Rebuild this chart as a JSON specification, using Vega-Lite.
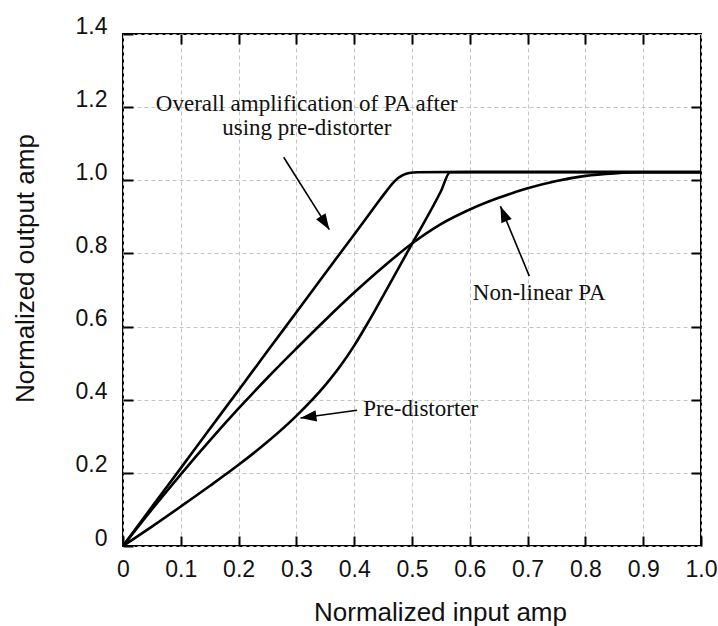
{
  "$schema": "https://vega.github.io/schema/vega-lite/v6.json",
  "width": 578,
  "height": 512,
  "autosize": {"type": "none"},
  "padding": {"left": 123, "top": 34, "right": 17, "bottom": 80},
  "background": "white",
  "config": {
    "view": {"stroke": "black", "strokeWidth": 2},
    "axis": {
      "labelFont": "Liberation Sans",
      "labelFontSize": 23,
      "labelColor": "#111",
      "titleFont": "Liberation Sans",
      "titleFontSize": 26,
      "titleFontWeight": "normal",
      "titleColor": "#111",
      "tickColor": "black",
      "tickWidth": 2,
      "tickSize": -10,
      "domain": false,
      "gridColor": "#c4c4c4",
      "gridDash": [4, 3],
      "gridWidth": 1
    }
  },
  "datasets": {
    "curves": [
      {"series": "Overall", "x": 0, "y": 0},
      {"series": "Overall", "x": 0.05, "y": 0.107},
      {"series": "Overall", "x": 0.1, "y": 0.213},
      {"series": "Overall", "x": 0.15, "y": 0.32},
      {"series": "Overall", "x": 0.2, "y": 0.426},
      {"series": "Overall", "x": 0.25, "y": 0.533},
      {"series": "Overall", "x": 0.3, "y": 0.639},
      {"series": "Overall", "x": 0.35, "y": 0.746},
      {"series": "Overall", "x": 0.4, "y": 0.852},
      {"series": "Overall", "x": 0.43, "y": 0.916},
      {"series": "Overall", "x": 0.445, "y": 0.948},
      {"series": "Overall", "x": 0.458, "y": 0.975},
      {"series": "Overall", "x": 0.468, "y": 0.994},
      {"series": "Overall", "x": 0.476, "y": 1.006},
      {"series": "Overall", "x": 0.485, "y": 1.015},
      {"series": "Overall", "x": 0.495, "y": 1.02},
      {"series": "Overall", "x": 0.51, "y": 1.022},
      {"series": "Overall", "x": 0.6, "y": 1.023},
      {"series": "Overall", "x": 0.8, "y": 1.023},
      {"series": "Overall", "x": 1.0, "y": 1.023},
      {"series": "PA", "x": 0, "y": 0},
      {"series": "PA", "x": 0.05, "y": 0.1},
      {"series": "PA", "x": 0.1, "y": 0.196},
      {"series": "PA", "x": 0.15, "y": 0.288},
      {"series": "PA", "x": 0.2, "y": 0.376},
      {"series": "PA", "x": 0.25, "y": 0.46},
      {"series": "PA", "x": 0.3, "y": 0.54},
      {"series": "PA", "x": 0.35, "y": 0.618},
      {"series": "PA", "x": 0.4, "y": 0.693},
      {"series": "PA", "x": 0.45, "y": 0.763},
      {"series": "PA", "x": 0.5, "y": 0.827},
      {"series": "PA", "x": 0.55, "y": 0.88},
      {"series": "PA", "x": 0.6, "y": 0.92},
      {"series": "PA", "x": 0.65, "y": 0.952},
      {"series": "PA", "x": 0.7, "y": 0.978},
      {"series": "PA", "x": 0.75, "y": 0.998},
      {"series": "PA", "x": 0.8, "y": 1.012},
      {"series": "PA", "x": 0.85, "y": 1.019},
      {"series": "PA", "x": 0.9, "y": 1.022},
      {"series": "PA", "x": 1.0, "y": 1.022},
      {"series": "Pre", "x": 0, "y": 0},
      {"series": "Pre", "x": 0.05, "y": 0.053},
      {"series": "Pre", "x": 0.1, "y": 0.108},
      {"series": "Pre", "x": 0.15, "y": 0.164},
      {"series": "Pre", "x": 0.2, "y": 0.222},
      {"series": "Pre", "x": 0.25, "y": 0.285},
      {"series": "Pre", "x": 0.3, "y": 0.356},
      {"series": "Pre", "x": 0.35, "y": 0.44},
      {"series": "Pre", "x": 0.375, "y": 0.49},
      {"series": "Pre", "x": 0.4, "y": 0.548},
      {"series": "Pre", "x": 0.425, "y": 0.614},
      {"series": "Pre", "x": 0.45, "y": 0.684},
      {"series": "Pre", "x": 0.5, "y": 0.826},
      {"series": "Pre", "x": 0.55, "y": 0.97},
      {"series": "Pre", "x": 0.566, "y": 1.022},
      {"series": "Pre", "x": 0.6, "y": 1.022},
      {"series": "Pre", "x": 1.0, "y": 1.022}
    ],
    "labels": [
      {"text": ["Overall amplification of PA after", "using pre-distorter"], "x": 0.318, "y": 1.19},
      {"text": ["Non-linear PA"], "x": 0.72, "y": 0.673},
      {"text": ["Pre-distorter"], "x": 0.515, "y": 0.355}
    ],
    "arrows": [
      {"id": "a1", "x": 0.278, "y": 1.063, "x2": 0.357, "y2": 0.865},
      {"id": "a2", "x": 0.703, "y": 0.738, "x2": 0.653, "y2": 0.929},
      {"id": "a3", "x": 0.405, "y": 0.371, "x2": 0.307, "y2": 0.35}
    ]
  },
  "layer": [
    {
      "data": {"name": "curves"},
      "mark": {"type": "line", "color": "black", "strokeWidth": 2.6, "interpolate": "monotone", "clip": true},
      "encoding": {
        "x": {
          "field": "x", "type": "quantitative",
          "scale": {"domain": [0, 1], "nice": false, "zero": false},
          "axis": {
            "orient": "bottom",
            "values": [0, 0.1, 0.2, 0.3, 0.4, 0.5, 0.6, 0.7, 0.8, 0.9, 1.0],
            "labelExpr": "datum.value === 0 ? '0' : format(datum.value, '.1f')",
            "labelPadding": 22,
            "labelFlush": false,
            "labelOverlap": false,
            "title": "Normalized input amp",
            "titleX": 317,
            "titleY": 53,
            "titleBaseline": "top",
            "grid": true
          }
        },
        "y": {
          "field": "y", "type": "quantitative",
          "scale": {"domain": [0, 1.4], "nice": false, "zero": false},
          "axis": {
            "orient": "left",
            "values": [0, 0.2, 0.4, 0.6, 0.8, 1.0, 1.2, 1.4],
            "labelExpr": "datum.value === 0 ? '0' : format(datum.value, '.1f')",
            "labelPadding": 26,
            "labelOffset": -8,
            "labelFlush": false,
            "labelOverlap": false,
            "title": "Normalized output amp",
            "titleX": -85,
            "titleY": 234,
            "grid": true
          }
        },
        "detail": {"field": "series"}
      }
    },
    {
      "data": {"name": "curves"},
      "mark": {"type": "line", "opacity": 0},
      "encoding": {
        "x": {
          "field": "x", "type": "quantitative",
          "axis": {
            "orient": "top",
            "values": [0.1, 0.2, 0.3, 0.4, 0.5, 0.6, 0.7, 0.8, 0.9],
            "labels": false, "title": null, "grid": false
          }
        },
        "y": {
          "field": "y", "type": "quantitative",
          "axis": {
            "orient": "right",
            "values": [0.2, 0.4, 0.6, 0.8, 1.0, 1.2],
            "labels": false, "title": null, "grid": false
          }
        },
        "detail": {"field": "series"}
      }
    },
    {
      "data": {"name": "labels"},
      "mark": {"type": "text", "font": "Liberation Serif", "fontSize": 23, "align": "center", "baseline": "alphabetic", "lineHeight": 24, "color": "#111"},
      "encoding": {
        "x": {"field": "x", "type": "quantitative", "axis": null},
        "y": {"field": "y", "type": "quantitative", "axis": null},
        "text": {"field": "text"}
      }
    },
    {
      "data": {"name": "arrows"},
      "mark": {"type": "rule", "color": "black", "strokeWidth": 1.6},
      "encoding": {
        "x": {"field": "x", "type": "quantitative", "axis": null},
        "y": {"field": "y", "type": "quantitative", "axis": null},
        "x2": {"field": "x2"},
        "y2": {"field": "y2"}
      }
    },
    {
      "data": {"name": "arrows"},
      "transform": [{"filter": "datum.id === 'a1'"}],
      "mark": {"type": "point", "shape": "M0,0 L-0.7,2 L0.7,2 Z", "filled": true, "color": "black", "opacity": 1, "size": 256, "angle": 147.7},
      "encoding": {
        "x": {"field": "x2", "type": "quantitative", "axis": null},
        "y": {"field": "y2", "type": "quantitative", "axis": null}
      }
    },
    {
      "data": {"name": "arrows"},
      "transform": [{"filter": "datum.id === 'a2'"}],
      "mark": {"type": "point", "shape": "M0,0 L-0.7,2 L0.7,2 Z", "filled": true, "color": "black", "opacity": 1, "size": 256, "angle": 337.5},
      "encoding": {
        "x": {"field": "x2", "type": "quantitative", "axis": null},
        "y": {"field": "y2", "type": "quantitative", "axis": null}
      }
    },
    {
      "data": {"name": "arrows"},
      "transform": [{"filter": "datum.id === 'a3'"}],
      "mark": {"type": "point", "shape": "M0,0 L-0.7,2 L0.7,2 Z", "filled": true, "color": "black", "opacity": 1, "size": 256, "angle": 262.3},
      "encoding": {
        "x": {"field": "x2", "type": "quantitative", "axis": null},
        "y": {"field": "y2", "type": "quantitative", "axis": null}
      }
    }
  ],
  "resolve": {"axis": {"x": "independent", "y": "independent"}}
}
